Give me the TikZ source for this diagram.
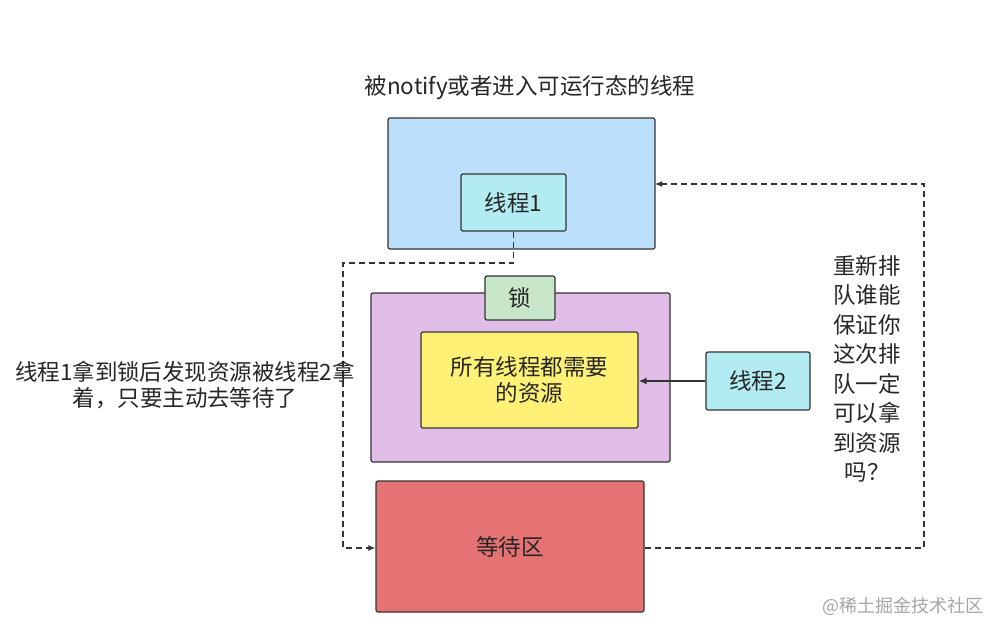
\documentclass[tikz,border=0pt]{standalone}
\usepackage{fontspec}
\setmainfont{Noto Sans CJK SC}
\usetikzlibrary{arrows.meta}
\begin{document}
\begin{tikzpicture}[x=1pt,y=-1pt,
  box/.style={draw=black!80,line width=1.2pt,rounded corners=2pt},
  txt/.style={font=\fontsize{22.5}{26}\selectfont,text=black!85},
  dashconn/.style={draw=black!80,line width=1.2pt,dash pattern=on 6pt off 4pt,-{Latex[length=7pt,width=6pt]}}]
\useasboundingbox (0,0) rectangle (1002,635);
\definecolor{blu}{HTML}{BBDEFB}
\definecolor{cy}{HTML}{B2EBF2}
\definecolor{pu}{HTML}{E1BEE7}
\definecolor{gr}{HTML}{C8E6C9}
\definecolor{ye}{HTML}{FFF176}
\definecolor{rd}{HTML}{E57373}
\node[txt] (title) at (530,88) {被notify或者进入可运行态的线程};
\draw[box,fill=blu] (388,118) rectangle (655,249);
\coordinate (blueR) at (655,184);
\node[box,fill=cy,minimum width=105pt,minimum height=57pt,txt] (t1) at (513.5,202.5) {线程1};
\draw[box,fill=pu] (371,293) rectangle (670,462);
\node[box,fill=gr,minimum width=70pt,minimum height=44pt,txt] (lock) at (520,298) {锁};
\node[box,fill=ye,minimum width=217pt,minimum height=96pt,txt,align=center] (res) at (529.5,380) {所有线程都需要\\的资源};
\node[box,fill=cy,minimum width=104pt,minimum height=58pt,txt] (t2) at (758,381) {线程2};
\node[box,fill=rd,minimum width=268pt,minimum height=131pt,txt] (wait) at (510,546.5) {等待区};
\draw[draw=black!80,line width=1.5pt,-{Latex[length=8pt,width=7pt]}] (t2.west) -- (res.east |- t2.west);
\draw[dashconn] (t1.south) |- (343,263) |- (wait.west |- 0,548);
\draw[dashconn] (wait.east |- 0,548) -| (924,184) -- (blueR);
\node[txt,align=center] (lt) at (185,385) {线程1拿到锁后发现资源被线程2拿\\着，只要主动去等待了};
\node[txt,align=center,text width=90pt,font=\fontsize{22.5}{29.5}\selectfont] (rt) at (867,369) {重新排\\队谁能\\保证你\\这次排\\队一定\\可以拿\\到资源\\吗？};
\node[font=\fontsize{18}{20}\selectfont,text=black!35] (wm) at (903,606) {@稀土掘金技术社区};
\end{tikzpicture}
\end{document}
